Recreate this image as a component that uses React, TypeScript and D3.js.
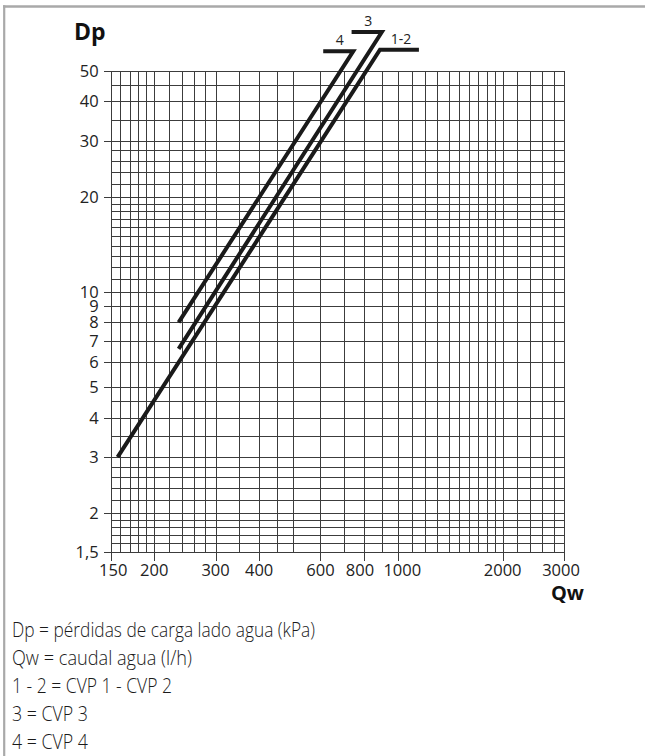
import React from "react";
import * as d3 from "d3";

const X_TICKS = [150, 200, 300, 400, 600, 800, 1000, 2000, 3000];
const Y_TICKS = [1.5, 2, 3, 4, 5, 6, 7, 8, 9, 10, 20, 30, 40, 50];
const X_GRID = [150, 160, 170, 180, 190, 200, 220, 240, 260, 280, 300, 350, 400, 450, 500, 600, 700, 800, 900, 1000, 1100, 1200, 1300, 1400, 1500, 1600, 1700, 1800, 1900, 2000, 2200, 2400, 2600, 2800, 3000];
const Y_GRID = [1.5, 1.6, 1.7, 1.8, 1.9, 2, 2.2, 2.4, 2.6, 2.8, 3, 3.5, 4, 4.5, 5, 6, 7, 8, 9, 10, 11, 12, 13, 14, 15, 16, 17, 18, 19, 20, 22, 24, 26, 28, 30, 35, 40, 45, 50];

const SERIES_NAMES = ["1-2", "3", "4"];
// [Qw, Dp]: start of curve, top corner, end of the horizontal label bar
const CURVE_12: [number, number][] = [[157, 3.0], [889, 58.3], [1150, 58.3]];
const CURVE_3: [number, number][] = [[235, 6.6], [900, 66.3], [737, 66.3]];
const CURVE_4: [number, number][] = [[235, 8.0], [745, 57.6], [611, 57.6]];
const CURVES = [CURVE_12, CURVE_3, CURVE_4];

const LEGEND_LINES = [
  "Dp = pérdidas de carga lado agua (kPa)",
  "Qw = caudal agua (l/h)",
  "1 - 2 = CVP 1 - CVP 2",
  "3 = CVP 3",
  "4 = CVP 4",
];

const W = 645;
const H = 756;

export default function App() {
  const x = d3.scaleLog().domain([150, 3000]).range([110.7, 564]);
  const y = d3.scaleLog().domain([1.5, 50]).range([552.3, 70.8]);
  const line = d3
    .line<[number, number]>()
    .x((d) => x(d[0]))
    .y((d) => y(d[1]));
  const x0 = x(150);
  const x1 = x(3000);
  const y0 = y(1.5);
  const y1 = y(50);
  const snap = (v: number) => Math.round(v) + 0.5;
  const fmtY = (v: number) => String(v).replace(".", ",");
  const tickFont = "'Open Sans', sans-serif";
  const labelNudge: Record<number, number> = { 150: 2.5, 800: -4, 1000: 4.5, 3000: -3 };
  const legendWidths = [303, 180, 160, 76, 76];

  return (
    <svg
      width={W}
      height={H}
      style={{ position: "absolute", left: 0, top: 0, background: "#fff" }}
    >
      <rect x={0} y={0} width={W} height={H} fill="#fff" />
      {/* frame */}
      <line x1={3} x2={W} y1={6.5} y2={6.5} stroke="#a9a9a9" strokeWidth={2.5} />
      <line x1={4.2} x2={4.2} y1={5.3} y2={H} stroke="#a9a9a9" strokeWidth={2.2} />

      {/* grid */}
      <g shapeRendering="crispEdges" stroke="#3c3c3c" strokeWidth={1}>
        {X_GRID.map((v) => (
          <line key={"gx" + v} x1={snap(x(v))} x2={snap(x(v))} y1={snap(y1)} y2={snap(y0)} />
        ))}
        {Y_GRID.map((v) => (
          <line key={"gy" + v} x1={snap(x0)} x2={snap(x1)} y1={snap(y(v))} y2={snap(y(v))} />
        ))}
        {X_TICKS.map((v) => (
          <line key={"tx" + v} x1={snap(x(v))} x2={snap(x(v))} y1={snap(y0)} y2={snap(y0) + 8} />
        ))}
        {Y_TICKS.map((v) => (
          <line key={"ty" + v} x1={snap(x0) - 8} x2={snap(x0)} y1={snap(y(v))} y2={snap(y(v))} />
        ))}
      </g>

      {/* tick labels */}
      <g fontFamily={tickFont} fontSize={16.5} fill="#222">
        {X_TICKS.map((v) => (
          <text key={"lx" + v} x={x(v) + (labelNudge[v] || 0)} y={y0 + 24} textAnchor="middle">
            {v}
          </text>
        ))}
        {Y_TICKS.map((v) => (
          <text key={"ly" + v} x={x0 - 12} y={y(v) + 6} textAnchor="end">
            {fmtY(v)}
          </text>
        ))}
      </g>

      {/* axis titles */}
      <text x={74} y={40} fontFamily={tickFont} fontWeight={700} fontSize={23} fill="#111">
        Dp
      </text>
      <text x={584} y={600} textAnchor="end" fontFamily={tickFont} fontWeight={700} fontSize={20} fill="#111">
        Qw
      </text>

      {/* curves */}
      <g fill="none" stroke="#1a1a1a" strokeWidth={4} strokeLinejoin="miter" strokeLinecap="butt">
        {CURVES.map((c, i) => (
          <path key={"c" + i} d={line(c) || ""} />
        ))}
      </g>
      <g fontFamily={tickFont} fontSize={14} fill="#222" textAnchor="middle">
        {CURVES.map((c, i) => {
          const a = c[1];
          const b = c[2];
          const mx = (x(a[0]) + x(b[0])) / 2;
          return (
            <text key={"n" + i} x={mx + 1.5} y={y(a[1]) - 6}>
              {SERIES_NAMES[i]}
            </text>
          );
        })}
      </g>

      {/* legend text */}
      <g fontFamily={tickFont} fontWeight={300} fontSize={20} fill="#1a1a1a">
        {LEGEND_LINES.map((t, i) => (
          <text
            key={"t" + i}
            x={12}
            y={637 + i * 27.9}
            textLength={legendWidths[i]}
            lengthAdjust="spacingAndGlyphs"
          >
            {t}
          </text>
        ))}
      </g>
    </svg>
  );
}
